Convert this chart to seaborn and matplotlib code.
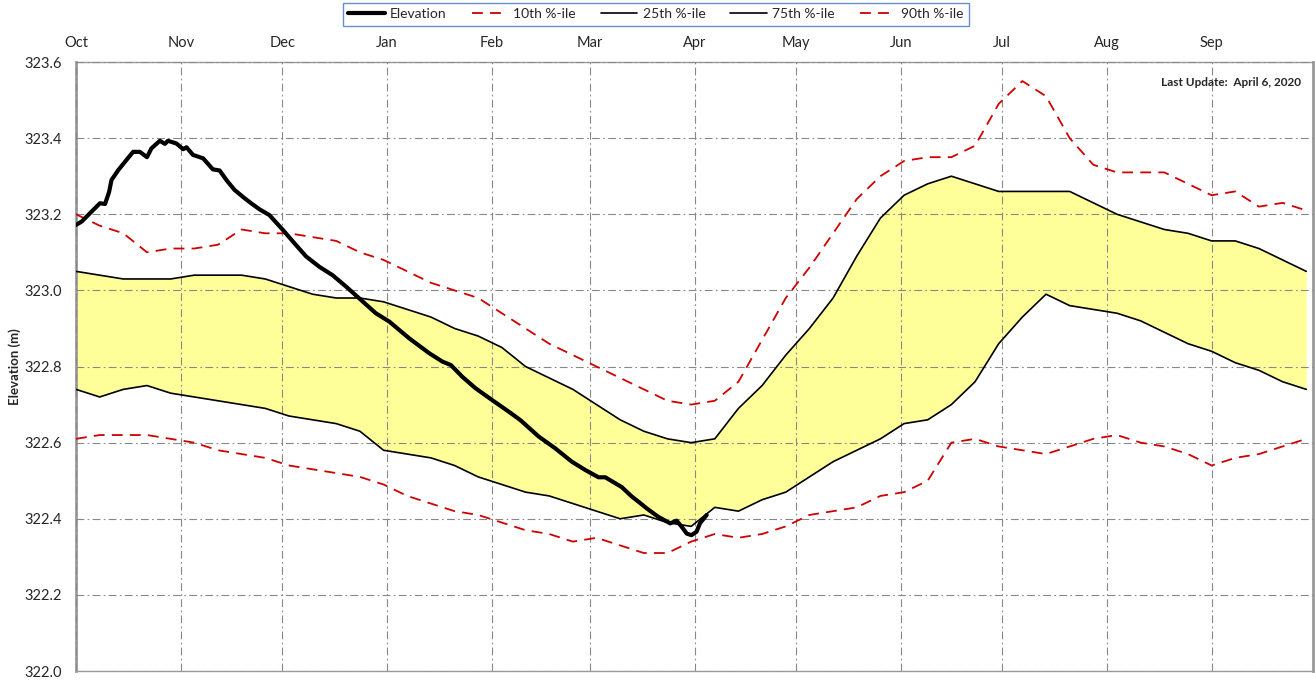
import numpy as np
import pandas as pd
import seaborn as sns
import matplotlib.pyplot as plt
from matplotlib.lines import Line2D

# Weekly percentile elevations (m), water year starting Oct 1
week_day = np.arange(0, 365, 7)
p10 = [322.61, 322.62, 322.62, 322.62, 322.61, 322.60, 322.58, 322.57, 322.56, 322.54,
       322.53, 322.52, 322.51, 322.49, 322.46, 322.44, 322.42, 322.41, 322.39, 322.37,
       322.36, 322.34, 322.35, 322.33, 322.31, 322.31, 322.34, 322.36, 322.35, 322.36,
       322.38, 322.41, 322.42, 322.43, 322.46, 322.47, 322.50, 322.60, 322.61, 322.59,
       322.58, 322.57, 322.59, 322.61, 322.62, 322.60, 322.59, 322.57, 322.54, 322.56,
       322.57, 322.59, 322.61]
p25 = [322.74, 322.72, 322.74, 322.75, 322.73, 322.72, 322.71, 322.70, 322.69, 322.67,
       322.66, 322.65, 322.63, 322.58, 322.57, 322.56, 322.54, 322.51, 322.49, 322.47,
       322.46, 322.44, 322.42, 322.40, 322.41, 322.39, 322.38, 322.43, 322.42, 322.45,
       322.47, 322.51, 322.55, 322.58, 322.61, 322.65, 322.66, 322.70, 322.76, 322.86,
       322.93, 322.99, 322.96, 322.95, 322.94, 322.92, 322.89, 322.86, 322.84, 322.81,
       322.79, 322.76, 322.74]
p75 = [323.05, 323.04, 323.03, 323.03, 323.03, 323.04, 323.04, 323.04, 323.03, 323.01,
       322.99, 322.98, 322.98, 322.97, 322.95, 322.93, 322.90, 322.88, 322.85, 322.80,
       322.77, 322.74, 322.70, 322.66, 322.63, 322.61, 322.60, 322.61, 322.69, 322.75,
       322.83, 322.90, 322.98, 323.09, 323.19, 323.25, 323.28, 323.30, 323.28, 323.26,
       323.26, 323.26, 323.26, 323.23, 323.20, 323.18, 323.16, 323.15, 323.13, 323.13,
       323.11, 323.08, 323.05]
p90 = [323.20, 323.17, 323.15, 323.10, 323.11, 323.11, 323.12, 323.16, 323.15, 323.15,
       323.14, 323.13, 323.10, 323.08, 323.05, 323.02, 323.00, 322.98, 322.94, 322.90,
       322.86, 322.83, 322.80, 322.77, 322.74, 322.71, 322.70, 322.71, 322.76, 322.87,
       322.98, 323.06, 323.15, 323.24, 323.30, 323.34, 323.35, 323.35, 323.38, 323.49,
       323.55, 323.51, 323.40, 323.33, 323.31, 323.31, 323.31, 323.28, 323.25, 323.26,
       323.22, 323.23, 323.21]

# Current water year elevation
elev_day = [0, 1.7, 4.6, 7.1, 8.6, 9.8, 10.5, 12.5, 14.5, 16.9, 18.9, 21.0, 22.3, 24.8,
            26.3, 27.2, 29.7, 31.7, 32.7, 34.6, 37.6, 40.5, 42.5, 44.5, 46.9, 49.9, 51.8,
            54.3, 57.2, 61.2, 65.1, 68.1, 72.0, 75.9, 79.9, 83.8, 88.7, 92.7, 98.6, 104.5,
            108.4, 110.9, 114.3, 118.2, 123.1, 128.1, 131.5, 136.9, 141.8, 146.7, 150.7,
            154.6, 156.6, 161.5, 164.5, 166.4, 168.9, 172.3, 175.8, 177.7, 179.2, 180.7,
            182.1, 183.6, 184.6, 186.6]
elev = [323.172, 323.181, 323.207, 323.229, 323.227, 323.259, 323.290, 323.316, 323.338,
        323.364, 323.364, 323.350, 323.373, 323.393, 323.385, 323.393, 323.386, 323.371,
        323.376, 323.356, 323.347, 323.318, 323.315, 323.290, 323.264, 323.242, 323.229,
        323.213, 323.198, 323.159, 323.119, 323.089, 323.062, 323.040, 323.010, 322.979,
        322.940, 322.918, 322.874, 322.835, 322.813, 322.804, 322.773, 322.743, 322.712,
        322.681, 322.659, 322.616, 322.585, 322.550, 322.528, 322.509, 322.509, 322.483,
        322.458, 322.445, 322.427, 322.405, 322.388, 322.395, 322.379, 322.361, 322.357,
        322.366, 322.388, 322.410]

month_day = [0, 31, 61, 92, 123, 152, 183, 213, 244, 274, 305, 336]
month_lbl = ['Oct', 'Nov', 'Dec', 'Jan', 'Feb', 'Mar', 'Apr', 'May', 'Jun', 'Jul', 'Aug', 'Sep']

sns.set_style('white')
plt.rcParams['font.family'] = ['Lato', 'DejaVu Sans']

pct = pd.DataFrame({'day': week_day, 'p10': p10, 'p25': p25, 'p75': p75, 'p90': p90})
cur = pd.DataFrame({'day': elev_day, 'elev': elev})

fig = plt.figure(figsize=(13.15, 6.8), dpi=100)
ax = fig.add_axes([0.0578, 0.0132, 0.9407, 0.8956])

red = '#D00000'
ax.fill_between(pct['day'], pct['p25'], pct['p75'], color='#FFFF99', zorder=1, lw=0)
sns.lineplot(data=pct, x='day', y='p25', color='black', lw=1.2, ax=ax, zorder=3)
sns.lineplot(data=pct, x='day', y='p75', color='black', lw=1.2, ax=ax, zorder=3)
for col in ['p10', 'p90']:
    sns.lineplot(data=pct, x='day', y=col, color=red, lw=1.3, ax=ax, zorder=3,
                 dashes=False, linestyle=(0, (6, 4)))
sns.lineplot(data=cur, x='day', y='elev', color='black', lw=3, ax=ax, zorder=4, sort=False)

ax.set_xlim(0, 366)
ax.set_ylim(322.0, 323.6)
ax.set_xticks(month_day)
ax.set_xticklabels(month_lbl, fontsize=10.5)
ax.xaxis.tick_top()
ax.tick_params(axis='x', length=0, pad=9)
ax.set_yticks(np.arange(322.0, 323.61, 0.2))
ax.set_yticklabels([f'{v:.1f}' for v in np.arange(322.0, 323.61, 0.2)], fontsize=10.5)
ax.tick_params(axis='y', length=4, color='#999999', pad=6)
ax.set_xlabel('')
ax.set_ylabel('Elevation (m)', fontsize=9.5, fontweight='bold')
ax.yaxis.set_label_coords(-0.0445, 0.5)

ax.grid(True, color='#888888', lw=0.8, linestyle=(0, (7, 3, 1.5, 3)), zorder=2)
ax.set_axisbelow(False)
for s in ax.spines.values():
    s.set_color('#9a9a9a')
    s.set_linewidth(1.0)
ax.spines['left'].set_linewidth(2.0)
ax.spines['right'].set_linewidth(2.0)

ax.text(0.99, 0.975, 'Last Update:  April 6, 2020', transform=ax.transAxes,
        ha='right', va='top', fontsize=8.5, fontweight='bold')

handles = [Line2D([], [], color='black', lw=3),
           Line2D([], [], color=red, lw=1.3, linestyle=(0, (6, 4))),
           Line2D([], [], color='black', lw=1.2),
           Line2D([], [], color='black', lw=1.2),
           Line2D([], [], color=red, lw=1.3, linestyle=(0, (6, 4)))]
labels = ['Elevation', '10th %-ile', '25th %-ile', '75th %-ile', '90th %-ile']
leg = fig.legend(handles, labels, loc='upper center', bbox_to_anchor=(0.499, 1.0),
                 ncol=5, fontsize=10, frameon=True, fancybox=False,
                 handlelength=2.6, columnspacing=1.8, borderpad=0.4, handletextpad=0.4,
                 borderaxespad=0.2)
leg.get_frame().set_edgecolor('#4472C4')
leg.get_frame().set_linewidth(1.0)

fig.savefig('out.png', dpi=100)
